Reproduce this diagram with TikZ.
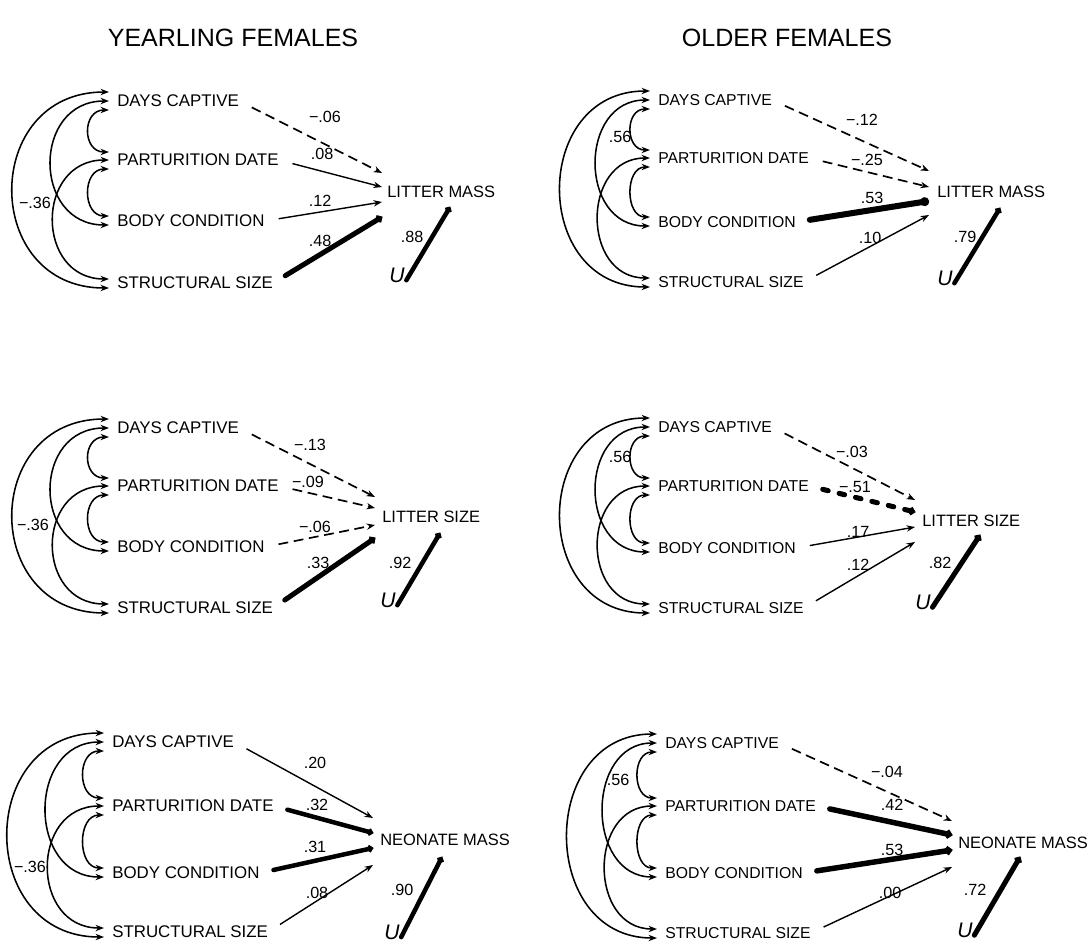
\documentclass[tikz,border=0pt]{standalone}
\usepackage{fontspec}
\setmainfont{Liberation Sans}
\usetikzlibrary{calc,arrows.meta}

% the four predictors with their correlation arcs
% #1 x of text, #2-#5 rows, #6 width factor of the arcs
\newcommand{\predictors}[6]{%
  \node[var] (dc) at (#1,#2) {DAYS CAPTIVE};
  \node[var] (pd) at (#1,#3) {PARTURITION DATE};
  \node[var] (bc) at (#1,#4) {BODY CONDITION};
  \node[var] (ss) at (#1,#5) {STRUCTURAL SIZE};
  \draw[corr] ($(dc.west)+(-8,-9)$) .. controls +(-128*#6,0) and +(-128*#6,0) .. ($(ss.west)+(-8,5)$);
  \draw[corr] ($(dc.west)+(-8,0)$) .. controls +(-77*#6,0) and +(-77*#6,0) .. ($(bc.west)+(-8,4)$);
  \draw[corr] ($(pd.west)+(-8,0)$) .. controls +(-74*#6,0) and +(-74*#6,0) .. ($(ss.west)+(-8,-4)$);
  \draw[corr] ($(dc.west)+(-8,9)$) .. controls +(-27*#6,0) and +(-27*#6,0) .. ($(pd.west)+(-8,-8)$);
  \draw[corr] ($(pd.west)+(-8,9)$) .. controls +(-27*#6,0) and +(-27*#6,0) .. ($(bc.west)+(-8,-5)$);
}

\tikzset{
  var/.style={anchor=west, inner sep=0pt, font=\fontsize{12}{14}\selectfont},
  outc/.style={anchor=west, inner sep=0pt, font=\fontsize{11.7}{14}\selectfont},
  coef/.style={inner sep=0pt, font=\fontsize{11.5}{13}\selectfont},
  heading/.style={font=\fontsize{17.8}{20}\selectfont},
  unode/.style={inner sep=0pt, font=\fontsize{15}{17}\selectfont\itshape},
  corr/.style={line width=1.1pt, {Stealth[length=6pt,width=4.5pt]}-{Stealth[length=6pt,width=4.5pt]}},
  eff/.style={line width=1pt, -{Stealth[length=6pt,width=4.5pt]}, shorten <=10pt},
  neg/.style={eff, line width=1.2pt, dash pattern=on 7pt off 4pt},
  heavy/.style={line width=#1, line cap=round, -{Circle[length=0pt 1.45]}, shorten <=10pt},
  heavyneg/.style={heavy=#1, dash pattern=on 4pt off 8pt},
}

\begin{document}
\begin{tikzpicture}[x=0.025cm, y=-0.025cm]
    \useasboundingbox (0,0) rectangle (1092,948);

    \node[heading] (h1) at (233,38) {YEARLING FEMALES};
    \node[heading] (h2) at (787,38) {OLDER FEMALES};

    % yearlings, litter mass
    \begin{scope}
    \predictors{117}{101}{160}{221}{283}{1}
    \node[coef] (a0) at (35,203) {−.36};
    \node[outc] (lm) at (387,192) {LITTER MASS};
    \coordinate (t1) at ($(lm.west)+(-5,-19)$);
    \coordinate (t2) at ($(lm.west)+(-5,-5)$);
    \coordinate (t3) at ($(lm.west)+(-5,10)$);
    \coordinate (t4) at ($(lm.west)+(-5,25)$);
    \coordinate (ue) at ($(lm.west)+(63,15)$);
    \draw[neg] (dc.east) -- (t1);
    \draw[eff] (pd.east) -- (t2);
    \draw[eff] (bc.east) -- (t3);
    \draw[heavy=3.6pt] (ss.east) -- (t4);
    \node[coef] (a1) at (325,117) {−.06};
    \node[coef] (a2) at (322,154) {.08};
    \node[coef] (a3) at (320,201) {.12};
    \node[coef] (a4) at (320,241) {.48};
    \node[unode] (u) at (397,275) {U};
    \draw[heavy=3.2pt, shorten <=2pt] (u.south east) -- (ue);
    \node[coef] (a5) at (412,237) {.88};
    \end{scope}

    % older, litter mass
    \begin{scope}[var/.append style={font=\fontsize{11.2}{13}\selectfont}]
    \predictors{658}{100}{158}{222}{282}{0.93}
    \node[coef] (b0) at (620,137) {.56};
    \node[outc] (lm) at (937,192) {LITTER MASS};
    \coordinate (t1) at ($(lm.west)+(-8,-21)$);
    \coordinate (t2) at ($(lm.west)+(-8,-5)$);
    \coordinate (t3) at ($(lm.west)+(-8,9)$);
    \coordinate (t4) at ($(lm.west)+(-8,23)$);
    \coordinate (ue) at ($(lm.west)+(63,16)$);
    \draw[neg] (dc.east) -- (t1);
    \draw[neg] (pd.east) -- (t2);
    \draw[heavy=4.3pt] (bc.east) -- (t3);
    \draw[eff] (ss.east) -- (t4);
    \node[coef] (b1) at (862,120) {−.12};
    \node[coef] (b2) at (867,160) {−.25};
    \node[coef] (b3) at (872,198) {.53};
    \node[coef] (b4) at (870,238) {.10};
    \node[unode] (u) at (945,278) {U};
    \draw[heavy=3.2pt, shorten <=2pt] (u.south east) -- (ue);
    \node[coef] (b5) at (965,237) {.79};
    \end{scope}

    % yearlings, litter size
    \begin{scope}
    \predictors{117}{428}{486}{547}{608}{1}
    \node[coef] (c0) at (33,525) {−.36};
    \node[outc] (ls) at (382,517) {LITTER SIZE};
    \coordinate (t1) at ($(ls.west)+(-7,-20)$);
    \coordinate (t2) at ($(ls.west)+(-7,-9)$);
    \coordinate (t3) at ($(ls.west)+(-7,8)$);
    \coordinate (t4) at ($(ls.west)+(-7,21)$);
    \coordinate (ue) at ($(ls.west)+(58,16)$);
    \draw[neg] (dc.east) -- (t1);
    \draw[neg] (pd.east) -- (t2);
    \draw[neg] (bc.east) -- (t3);
    \draw[heavy=3.6pt] (ss.east) -- (t4);
    \node[coef] (c1) at (310,445) {−.13};
    \node[coef] (c2) at (308,482) {−.09};
    \node[coef] (c3) at (315,527) {−.06};
    \node[coef] (c4) at (318,563) {.33};
    \node[unode] (u) at (388,600) {U};
    \draw[heavy=3.2pt, shorten <=2pt] (u.south east) -- (ue);
    \node[coef] (c5) at (400,563) {.92};
    \end{scope}

    % older, litter size
    \begin{scope}[var/.append style={font=\fontsize{11.2}{13}\selectfont}]
    \predictors{658}{427}{486}{548}{608}{0.93}
    \node[coef] (d0) at (620,457) {.56};
    \node[outc] (ls) at (922,521) {LITTER SIZE};
    \coordinate (t1) at ($(ls.west)+(-7,-21)$);
    \coordinate (t2) at ($(ls.west)+(-7,-9)$);
    \coordinate (t3) at ($(ls.west)+(-7,6)$);
    \coordinate (t4) at ($(ls.west)+(-7,21)$);
    \coordinate (ue) at ($(ls.west)+(58,14)$);
    \draw[neg] (dc.east) -- (t1);
    \draw[heavyneg=3.6pt] (pd.east) -- (t2);
    \draw[eff] (bc.east) -- (t3);
    \draw[eff] (ss.east) -- (t4);
    \node[coef] (d1) at (852,452) {−.03};
    \node[coef] (d2) at (855,487) {−.51};
    \node[coef] (d3) at (858,532) {.17};
    \node[coef] (d4) at (858,565) {.12};
    \node[unode] (u) at (923,602) {U};
    \draw[heavy=3.6pt, shorten <=2pt] (u.south east) -- (ue);
    \node[coef] (d5) at (940,563) {.82};
    \end{scope}

    % yearlings, neonate mass
    \begin{scope}
    \predictors{112}{742}{806}{873}{932}{1}
    \node[coef] (e0) at (30,867) {−.36};
    \node[outc] (nm) at (380,840) {NEONATE MASS};
    \coordinate (t1) at ($(nm.west)+(-7,-22)$);
    \coordinate (t2) at ($(nm.west)+(-7,-7)$);
    \coordinate (t3) at ($(nm.west)+(-7,8)$);
    \coordinate (t4) at ($(nm.west)+(-7,25)$);
    \coordinate (ue) at ($(nm.west)+(62,17)$);
    \draw[eff] (dc.east) -- (t1);
    \draw[heavy=3.2pt] (pd.east) -- (t2);
    \draw[heavy=3.2pt] (bc.east) -- (t3);
    \draw[eff] (ss.east) -- (t4);
    \node[coef] (e1) at (315,763) {.20};
    \node[coef] (e2) at (317,805) {.32};
    \node[coef] (e3) at (315,847) {.31};
    \node[coef] (e4) at (317,893) {.08};
    \node[unode] (u) at (392,932) {U};
    \draw[heavy=3.2pt, shorten <=2pt] (u.south east) -- (ue);
    \node[coef] (e5) at (402,890) {.90};
    \end{scope}

    % older, neonate mass
    \begin{scope}[var/.append style={font=\fontsize{11.2}{13}\selectfont}]
    \predictors{665}{743}{806}{873}{933}{0.93}
    \node[coef] (f0) at (618,780) {.56};
    \node[outc] (nm) at (958,843) {NEONATE MASS};
    \coordinate (t1) at ($(nm.west)+(-6,-22)$);
    \coordinate (t2) at ($(nm.west)+(-6,-8)$);
    \coordinate (t3) at ($(nm.west)+(-6,7)$);
    \coordinate (t4) at ($(nm.west)+(-6,24)$);
    \coordinate (ue) at ($(nm.west)+(62,14)$);
    \draw[neg] (dc.east) -- (t1);
    \draw[heavy=3.9pt] (pd.east) -- (t2);
    \draw[heavy=3.9pt] (bc.east) -- (t3);
    \draw[eff] (ss.east) -- (t4);
    \node[coef] (f1) at (887,772) {−.04};
    \node[coef] (f2) at (892,805) {.42};
    \node[coef] (f3) at (892,850) {.53};
    \node[coef] (f4) at (890,893) {.00};
    \node[unode] (u) at (965,930) {U};
    \draw[heavy=3.6pt, shorten <=2pt] (u.south east) -- (ue);
    \node[coef] (f5) at (975,890) {.72};
    \end{scope}
\end{tikzpicture}
\end{document}
